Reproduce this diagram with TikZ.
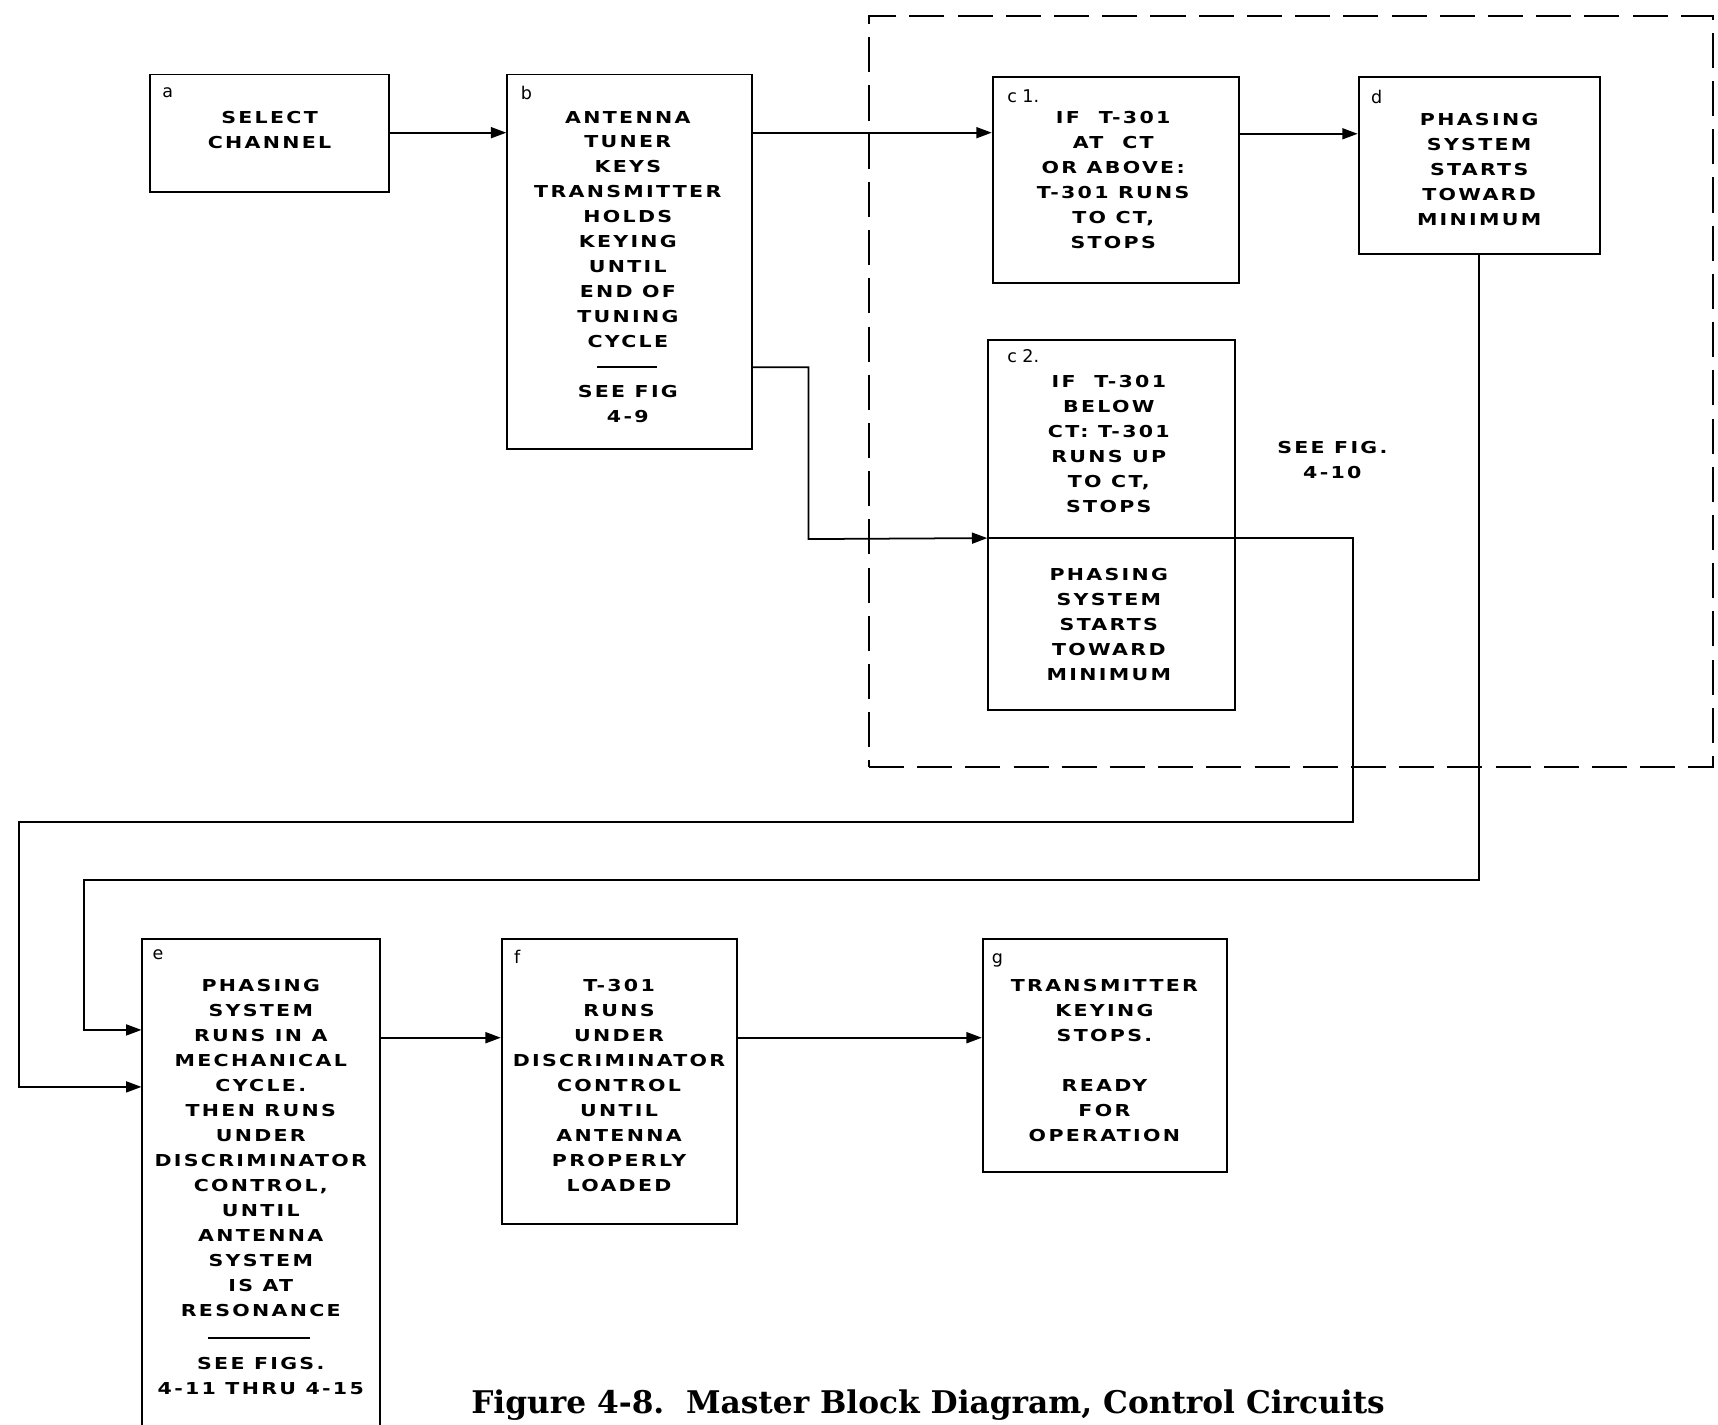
\documentclass[tikz,border=0pt]{standalone}
\usepackage{fontspec}
\newfontfamily\lettering[LetterSpace=14,FakeStretch=1.25]{DejaVu Sans}
\newfontfamily\labelfont{DejaVu Sans}
\newfontfamily\capfont{DejaVu Serif}
\usetikzlibrary{arrows.meta,calc}
\begin{document}
\begin{tikzpicture}[x=1pt,y=-1pt,
  box/.style={draw, line width=1.8pt, rectangle, inner sep=0pt},
  txt/.style={font=\lettering\bfseries\fontsize{15}{22.8}\selectfont, align=center, inner sep=0pt},
  lbl/.style={font=\labelfont\fontsize{16}{18}\selectfont, anchor=base west, inner sep=0pt},
  conn/.style={line width=1.6pt},
  arr/.style={conn, -{Triangle[length=14pt,width=10pt]}},
  dashbox/.style={draw, line width=1.8pt, dash pattern=on 32pt off 12pt, inner sep=0pt},
  sepline/.style={line width=2pt},
]
\clip (0,0) rectangle (1568,1300);
\fill[white] (0,0) rectangle (1568,1300);

% dashed group
\node[dashbox, minimum width=770pt, minimum height=685pt] (grp) at (1178,357.5) {};

% boxes
\node[box, minimum width=218pt, minimum height=107pt] (a) at (246,121.5) {};
\node[box, minimum width=223pt, minimum height=342pt] (b) at (574.5,239) {};
\node[box, minimum width=225pt, minimum height=188pt] (c1) at (1018.5,164) {};
\node[box, minimum width=220pt, minimum height=162pt] (d) at (1350,151) {};
\node[box, minimum width=225pt, minimum height=338pt] (c2) at (1014.5,479) {};
\node[box, minimum width=217pt, minimum height=453pt] (e) at (238.5,1083.5) {};
\node[box, minimum width=215pt, minimum height=260pt] (f) at (565.5,987) {};
\node[box, minimum width=223pt, minimum height=213pt] (g) at (1008.5,963.5) {};

% labels
\node[lbl] (la) at ($(a.north west)+(12,22)$) {a};
\node[lbl] (lb) at ($(b.north west)+(13,24)$) {b};
\node[lbl] (lc1) at ($(c1.north west)+(14,24)$) {c 1.};
\node[lbl] (ld) at ($(d.north west)+(12,25)$) {d};
\node[lbl] (lc2) at ($(c2.north west)+(18,22)$) {c 2.};
\node[lbl] (le) at ($(e.north west)+(10,20)$) {e};
\node[lbl] (lf) at ($(f.north west)+(12,23)$) {f};
\node[lbl] (lg) at ($(g.north west)+(9,23)$) {g};

% texts
\node[txt] (ta) at (246,118.5) {SELECT\\CHANNEL};
\node[txt] (tb1) at (573,209.5) {ANTENNA\\TUNER\\KEYS\\TRANSMITTER\\HOLDS\\KEYING\\UNTIL\\END OF\\TUNING\\CYCLE};
\draw[sepline] (545,335) -- (600,335);
\node[txt] (tb2) at (573,369) {SEE FIG\\4-9};
\node[txt] (tc1) at (1016,164.5) {IF\ \ T-301\\AT\ \ CT\\OR ABOVE:\\T-301 RUNS\\TO CT,\\STOPS};
\node[txt] (td) at (1350,154.5) {PHASING\\SYSTEM\\STARTS\\TOWARD\\MINIMUM};
\node[txt] (tc2a) at (1012,405) {IF\ \ T-301\\BELOW\\CT: T-301\\RUNS UP\\TO CT,\\STOPS};
\node[txt] (tc2b) at (1012,570) {PHASING\\SYSTEM\\STARTS\\TOWARD\\MINIMUM};
\node[txt] (tsee) at (1216,419.5) {SEE FIG.\\4-10};
\node[txt] (te1) at (238,1048) {PHASING\\SYSTEM\\RUNS IN A\\MECHANICAL\\CYCLE.\\THEN RUNS\\UNDER\\DISCRIMINATOR\\CONTROL,\\UNTIL\\ANTENNA\\SYSTEM\\IS AT\\RESONANCE};
\draw[sepline] (190,1221) -- (283,1221);
\node[txt] (te2) at (238,1255.5) {SEE FIGS.\\4-11 THRU 4-15};
\node[txt] (tf) at (565,990.5) {T-301\\RUNS\\UNDER\\DISCRIMINATOR\\CONTROL\\UNTIL\\ANTENNA\\PROPERLY\\LOADED};
\node[txt] (tg) at (1008,968) {TRANSMITTER\\KEYING\\STOPS.\\~\\READY\\FOR\\OPERATION};

% caption
\node[font=\capfont\bfseries\fontsize{28.5}{30}\selectfont, inner sep=0pt] (cap) at (847,1282) {Figure 4-8.\ \ Master Block Diagram,\ Control Circuits};

% connectors
\draw[arr] ($(a.north east)+(0,54)$) -- ($(b.north west)+(0,54)$);
\draw[arr] ($(b.north east)+(0,54)$) -- ($(c1.north west)+(0,52)$);
\draw[arr] ($(c1.north east)+(0,53)$) -- ($(d.north west)+(0,53)$);
\coordinate (k0) at (738,492);
\draw[arr] ($(b.north east)+(0,268)$) -| (k0) -- ($(c2.north west)+(0,182)$);
\draw[conn] ($(c2.north west)+(0,182)$) -- ($(c2.north east)+(0,182)$);
\coordinate (k1) at (1235,750);
\coordinate (k2) at (17,992);
\draw[arr] ($(c2.north east)+(0,182)$) -| (k1) -| (k2) -- (e.west |- k2);
\coordinate (k3) at (77,803);
\coordinate (k4) at (77,940);
\draw[arr] (d.south) |- (k3) -- (k4) -- (e.west |- k4);
\draw[arr] ($(e.north east)+(0,91)$) -- ($(f.north west)+(0,91)$);
\draw[arr] ($(f.north east)+(0,91)$) -- ($(g.north west)+(0,91)$);
\end{tikzpicture}
\end{document}
